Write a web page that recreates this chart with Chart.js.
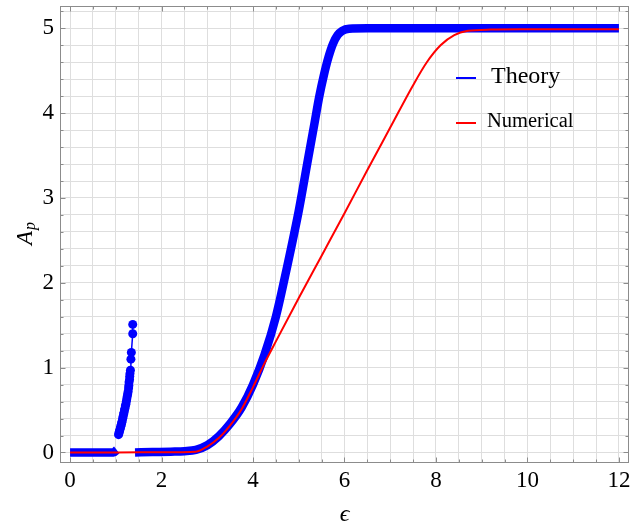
<!DOCTYPE html>
<html>
<head>
<meta charset="utf-8">
<script src="https://cdn.jsdelivr.net/npm/chart.js@4.4.1/dist/chart.umd.min.js"></script>
<style>
  html, body { margin: 0; padding: 0; background: #fff; }
</style>
</head>
<body>
<canvas id="chart" width="644" height="529"></canvas>
<script>
// Theory curve (null marks the gap between the two branches)
var theoryEps = [0, 0.5, 0.95, 1.02, 1.2, 1.42, 1.8, 2.2, 2.5, 2.75, 3.0, 3.25, 3.5, 3.75, 4.0, 4.25, 4.5, 4.75, 5.0, 5.2, 5.35, 5.45, 5.55, 5.65, 5.75, 5.85, 5.95, 6.1, 6.5, 9, 12];
var theoryAp  = [0, 0, 0, 0.03, null, 0, 0.005, 0.01, 0.015, 0.03, 0.085, 0.19, 0.34, 0.53, 0.80, 1.15, 1.6, 2.2, 2.85, 3.45, 3.9, 4.2, 4.45, 4.66, 4.82, 4.92, 4.97, 4.995, 5.0, 5.0, 5.0];

// Theory spike near eps = 1.1 - 1.4
var spikeEps = [1.06, 1.07, 1.08, 1.09, 1.10, 1.11, 1.12, 1.13, 1.14, 1.15, 1.16, 1.17, 1.18, 1.19, 1.20, 1.21, 1.22, 1.23, 1.24, 1.25, 1.26, 1.27, 1.28, 1.285, 1.29, 1.30, 1.305, 1.31, 1.32, 1.33, 1.34, 1.37, 1.37];
var spikeAp  = [0.21, 0.23, 0.25, 0.27, 0.29, 0.31, 0.33, 0.35, 0.37, 0.40, 0.42, 0.45, 0.47, 0.50, 0.52, 0.55, 0.57, 0.60, 0.63, 0.66, 0.69, 0.72, 0.76, 0.79, 0.83, 0.86, 0.90, 0.93, 0.97, 1.10, 1.18, 1.40, 1.51];

// Numerical curve
var numEps = [0, 1.0, 2.0, 2.75, 3.0, 3.25, 3.5, 3.75, 4.0, 4.25, 4.5, 5.0, 5.5, 6.0, 6.5, 7.0, 7.5, 7.8, 8.1, 8.4, 8.7, 9.2, 10, 12];
var numAp  = [0, 0, 0.003, 0.01, 0.07, 0.17, 0.32, 0.51, 0.77, 1.05, 1.31, 1.82, 2.32, 2.82, 3.33, 3.83, 4.33, 4.6, 4.8, 4.92, 4.97, 4.985, 4.988, 4.99];

var xTickLabels = [0, 2, 4, 6, 8, 10, 12];
var yTickLabels = [0, 1, 2, 3, 4, 5];

var serif = '"Liberation Serif", "Times New Roman", "DejaVu Serif", serif';

function pairs(xs, ys) {
    return xs.map(function(x, i) { return {x: x, y: ys[i]}; });
}

function labelFor(list) {
    return function(v) {
        var r = Math.round(v * 1000) / 1000;
        return list.indexOf(r) >= 0 ? String(r) : '';
    };
}

// frame, inward ticks, y title and legend
var decorations = {
    id: 'decorations',
    afterDatasetsDraw: function(chart) {
        var ctx = chart.ctx, a = chart.chartArea;
        var xs = chart.scales.x, ys = chart.scales.y;
        ctx.save();
        ctx.strokeStyle = '#8c8c8c';
        ctx.lineWidth = 1;
        var L = Math.round(a.left) + 0.5, R = Math.round(a.right) - 0.5;
        var T = Math.round(a.top) + 0.5, B = Math.round(a.bottom) - 0.5;
        ctx.strokeRect(L, T, R - L, B - T);
        ctx.beginPath();
        for (var i = 0; i <= 24; i++) {
            var px = Math.round(xs.getPixelForValue(i * 0.5)) + 0.5;
            var len = (i % 4 === 0) ? 5 : 3;
            ctx.moveTo(px, B); ctx.lineTo(px, B - len);
            ctx.moveTo(px, T); ctx.lineTo(px, T + len);
        }
        for (var j = 0; j <= 26; j++) {
            var py = Math.round(ys.getPixelForValue(j * 0.2)) + 0.5;
            var len2 = (j % 5 === 0) ? 5 : 3;
            ctx.moveTo(L, py); ctx.lineTo(L + len2, py);
            ctx.moveTo(R, py); ctx.lineTo(R - len2, py);
        }
        ctx.stroke();

        // y axis title A_p
        ctx.fillStyle = '#000';
        ctx.translate(31.5, 245);
        ctx.rotate(-Math.PI / 2);
        ctx.textAlign = 'left';
        ctx.textBaseline = 'alphabetic';
        ctx.font = 'italic 23px ' + serif;
        ctx.fillText('A', 0, 0);
        var wA = ctx.measureText('A').width;
        ctx.font = 'italic 16px ' + serif;
        ctx.fillText('p', wA + 1, 3);
        ctx.restore();

        // legend
        ctx.save();
        ctx.lineWidth = 2;
        ctx.strokeStyle = '#0000ff';
        ctx.beginPath(); ctx.moveTo(456, 78); ctx.lineTo(476, 78); ctx.stroke();
        ctx.strokeStyle = '#ff0000';
        ctx.beginPath(); ctx.moveTo(456, 123); ctx.lineTo(476, 123); ctx.stroke();
        ctx.fillStyle = '#000';
        ctx.textAlign = 'left';
        ctx.textBaseline = 'alphabetic';
        ctx.font = '24px ' + serif;
        ctx.fillText('Theory', 491, 83);
        ctx.font = '20.5px ' + serif;
        ctx.fillText('Numerical', 487, 127);
        ctx.restore();
    }
};

var ctx = document.getElementById('chart').getContext('2d');
var myChart = new Chart(ctx, {
    type: 'scatter',
    data: {
        datasets: [{
            label: 'Numerical',
            data: pairs(numEps, numAp),
            showLine: true,
            borderColor: '#ff0000',
            borderWidth: 2,
            pointRadius: 0,
            cubicInterpolationMode: 'monotone',
            order: 0
        }, {
            label: 'Theory',
            data: pairs(spikeEps, spikeAp),
            showLine: true,
            borderColor: '#0000ff',
            borderWidth: 1.5,
            pointRadius: 4.5,
            pointBackgroundColor: '#0000ff',
            pointBorderWidth: 0,
            order: 1
        }, {
            label: 'Theory',
            data: pairs(theoryEps, theoryAp),
            showLine: true,
            spanGaps: false,
            borderColor: '#0000ff',
            borderWidth: 8.5,
            borderCapStyle: 'butt',
            borderJoinStyle: 'round',
            pointRadius: 0,
            cubicInterpolationMode: 'monotone',
            order: 2
        }]
    },
    options: {
        responsive: false,
        animation: false,
        layout: { padding: { top: 6, right: 15, left: 0, bottom: 0 } },
        plugins: {
            legend: { display: false },
            tooltip: { enabled: false }
        },
        scales: {
            x: {
                type: 'linear',
                min: -0.22,
                max: 12.22,
                afterFit: function(s) { s.height = 66; s.paddingLeft = 0; s.paddingRight = 0; },
                border: { display: false },
                grid: { color: '#dedede', drawTicks: false, lineWidth: 1 },
                ticks: {
                    stepSize: 0.5,
                    includeBounds: false,
                    autoSkip: false,
                    maxRotation: 0,
                    padding: 4,
                    color: '#000',
                    font: { family: serif, size: 23 },
                    callback: labelFor(xTickLabels)
                },
                title: {
                    display: true,
                    text: 'ϵ',
                    color: '#000',
                    font: { family: serif, size: 24, style: 'italic' },
                    padding: { top: 0, bottom: 0 }
                }
            },
            y: {
                type: 'linear',
                min: -0.124,
                max: 5.263,
                afterFit: function(s) { s.width = 60; s.paddingTop = 0; s.paddingBottom = 0; },
                border: { display: false },
                grid: { color: '#dedede', drawTicks: false, lineWidth: 1 },
                ticks: {
                    stepSize: 0.2,
                    includeBounds: false,
                    autoSkip: false,
                    padding: 6,
                    color: '#000',
                    font: { family: serif, size: 23 },
                    callback: labelFor(yTickLabels)
                }
            }
        }
    },
    plugins: [decorations]
});
</script>
</body>
</html>
